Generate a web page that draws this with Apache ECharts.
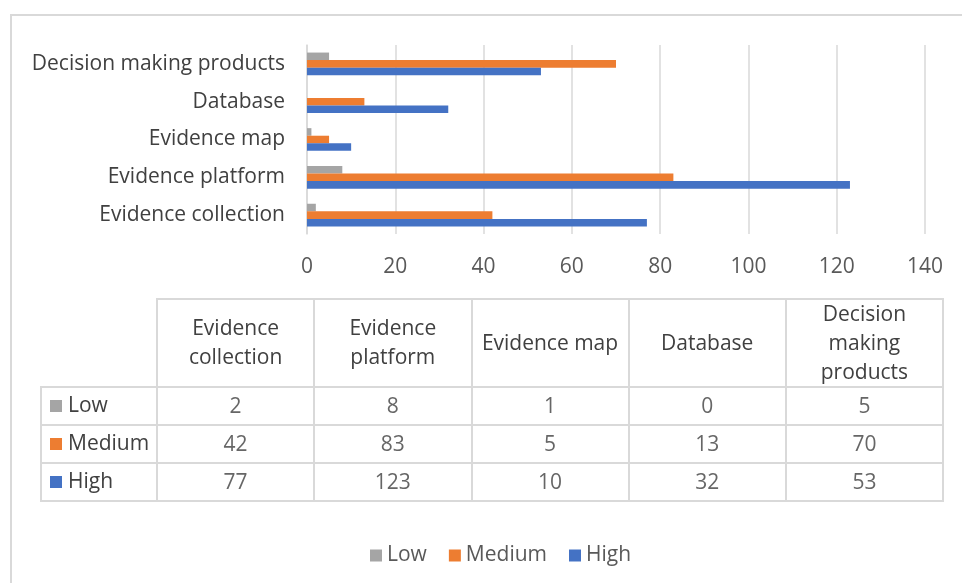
<!DOCTYPE html>
<html><head><meta charset="utf-8">
<script src="https://cdn.jsdelivr.net/npm/echarts@6/dist/echarts.min.js"></script>
<style>html,body{margin:0;padding:0;background:#fff}#c{width:962px;height:583px}</style>
</head><body><div id="c"></div>
<script>
const categories = ['Evidence collection','Evidence platform','Evidence map','Database','Decision making products'];
const headerLabels = ['Evidence\ncollection','Evidence\nplatform','Evidence map','Database','Decision\nmaking\nproducts'];
const seriesNames = ['Low','Medium','High'];
const low = [2,8,1,0,5];
const medium = [42,83,5,13,70];
const high = [77,123,10,32,53];
const xMin = 0, xMax = 140, xInterval = 20;
const colors = ['#a5a5a5','#ed7d31','#4472c4'];

const values = [low, medium, high];
const FONT = 'Open Sans';
const FS = 21;
const lineCol = '#d9d9d9';
const textCol = '#404040';

const tableData = [];
values.forEach((row, r) => row.forEach((v, c) => tableData.push([c, r, v])));

const rich = {t:{fontSize:FS, fontFamily:FONT, color:textCol, padding:[0,0,0,6]}};
colors.forEach((c,i)=>{ rich['i'+i] = {width:12, height:12, backgroundColor:c}; });

const chart = echarts.init(document.getElementById('c'), null, {renderer:'canvas'});
chart.setOption({
  animation:false,
  textStyle:{fontFamily:FONT},
  graphic:[{type:'rect', shape:{x:11,y:15,width:1000,height:620}, style:{fill:'none', stroke:lineCol, lineWidth:2}, silent:true}],
  legend:{data:seriesNames, left:365, top:540, icon:'rect', itemWidth:12, itemHeight:12, itemGap:22,
    textStyle:{fontSize:FS, color:'#595959', fontFamily:FONT}},
  grid:[
    {left:307, right:37, top:45, height:189},
    {left:157, right:19, top:387, height:114, show:true, borderColor:lineCol, borderWidth:2},
    {left:157, right:19, top:299, height:88, show:true, borderColor:lineCol, borderWidth:2},
    {left:41, width:116, top:387, height:114, show:true, borderColor:lineCol, borderWidth:2}
  ],
  xAxis:[
    {gridIndex:0, type:'value', min:xMin, max:xMax, interval:xInterval,
      axisLine:{show:false}, axisTick:{show:false},
      splitLine:{lineStyle:{color:lineCol, width:1.5}},
      axisLabel:{fontSize:FS, color:'#595959', margin:23, fontFamily:FONT}},
    {gridIndex:1, type:'category', data:headerLabels, position:'top',
      axisLine:{show:false}, axisTick:{show:false},
      axisLabel:{interval:0, hideOverlap:false, margin:43, verticalAlign:'middle', lineHeight:29, fontSize:FS, color:textCol, fontFamily:FONT, align:'center'},
      splitLine:{show:true, interval:0, lineStyle:{color:lineCol, width:2}}},
    {gridIndex:2, type:'category', data:headerLabels,
      axisLine:{show:false}, axisTick:{show:false}, axisLabel:{show:false},
      splitLine:{show:true, interval:0, lineStyle:{color:lineCol, width:2}}},
    {gridIndex:3, type:'value', show:false}
  ],
  yAxis:[
    {gridIndex:0, type:'category', data:categories,
      axisLine:{lineStyle:{color:lineCol, width:1.5}}, axisTick:{show:false},
      axisLabel:{interval:0, fontSize:FS, color:textCol, margin:22, fontFamily:FONT, padding:[2,0,0,0]}},
    {gridIndex:1, type:'category', data:seriesNames, inverse:true,
      axisLine:{show:false}, axisTick:{show:false}, axisLabel:{show:false},
      splitLine:{show:true, interval:0, lineStyle:{color:lineCol, width:2}}},
    {gridIndex:2, type:'value', show:false},
    {gridIndex:3, type:'category', data:seriesNames, inverse:true,
      axisLine:{show:false}, axisTick:{show:false},
      axisLabel:{interval:0, inside:true, margin:9, align:'left', formatter:(v,i)=>'{i'+i+'|}{t|'+v+'}', rich:rich},
      splitLine:{show:true, interval:0, lineStyle:{color:lineCol, width:2}}}
  ],
  series:[
    ...seriesNames.map((n,i)=>({name:n, type:'bar', xAxisIndex:0, yAxisIndex:0, data:values[i],
      itemStyle:{color:colors[i]}, barGap:'0%', barCategoryGap:'40%'})),
    {type:'scatter', xAxisIndex:1, yAxisIndex:1, symbolSize:1, silent:true,
      itemStyle:{color:'rgba(0,0,0,0)'},
      label:{show:true, position:'inside', offset:[0,1], formatter:p=>String(p.value[2]), fontSize:FS, color:textCol, fontFamily:FONT},
      data:tableData}
  ]
});
</script></body></html>
